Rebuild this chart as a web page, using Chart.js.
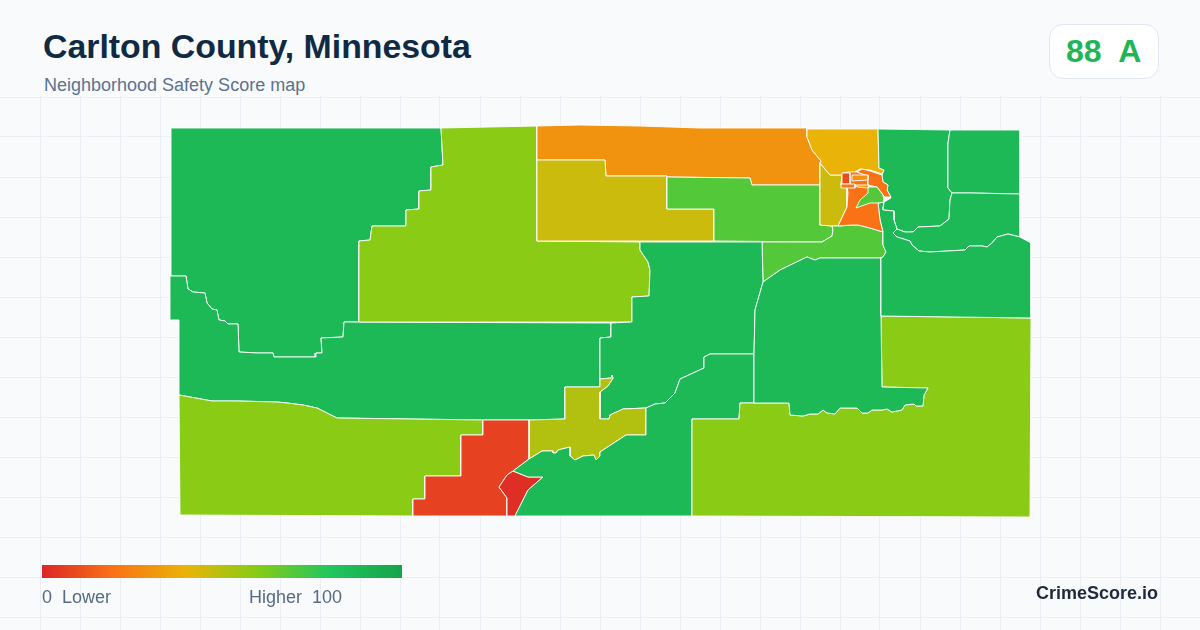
<!DOCTYPE html>
<html><head><meta charset="utf-8">
<style>
html,body{margin:0;padding:0;background:#f8fafc;width:1200px;height:630px;overflow:hidden;font-family:"Liberation Sans",Arial,sans-serif}
#wrap{position:absolute;left:0;top:0;width:1200px;height:630px}
canvas{position:absolute;left:0;top:96px}
.t{position:absolute;white-space:pre;line-height:1}
#title{left:43px;top:30px;font-size:33.85px;font-weight:700;color:#102a43}
#sub{left:44px;top:76px;font-size:18px;color:#5b7390}
#badge{position:absolute;left:1049px;top:24px;width:108px;height:53px;background:#fff;border:1px solid #e2e8f0;border-radius:14px}
#score{left:1066px;top:35px;font-size:32px;font-weight:700;color:#1fb558}
#bar{position:absolute;left:42px;top:565px;width:360px;height:13px;background:linear-gradient(90deg,#dc2626 0%,#f97316 20%,#eab308 40%,#84cc16 60%,#22c55e 80%,#16a34a 100%)}
#lo{left:42px;top:588px;font-size:18px;color:#566b85}
#hi{left:249px;top:588px;font-size:18px;color:#566b85}
#brand{left:1036px;top:584px;font-size:18px;font-weight:700;color:#1e293b}
</style></head><body>
<div id="wrap">
<canvas id="c" width="1200" height="534"></canvas>
<div class="t" id="title">Carlton County, Minnesota</div>
<div class="t" id="sub">Neighborhood Safety Score map</div>
<div id="badge"></div><div class="t" id="score">88  A</div>
<div id="bar"></div>
<div class="t" id="lo">0  Lower</div><div class="t" id="hi">Higher  100</div>
<div class="t" id="brand">CrimeScore.io</div>
</div>
<script src="https://cdn.jsdelivr.net/npm/chart.js@4"></script>
<script>
// Map tract outlines, in map units, with their safety scores
const northwest=[[171,128],[441,128],[443,165],[431,167],[431,190],[419,191],[419,209],[406,210],[406,226],[372,226],[370,240],[359,241],[359,322],[344,322],[343,337],[321,338],[322,353],[316,353],[315,357],[274,357],[273,353],[257,353],[239,352],[238,324],[228,324],[225,321],[219,320],[217,310],[212,309],[207,303],[205,293],[193,292],[188,289],[186,276],[170,276]];
const westBand=[[170,276],[186,276],[188,289],[193,292],[205,293],[207,303],[212,309],[217,310],[219,320],[225,321],[228,324],[238,324],[239,352],[257,353],[273,353],[274,357],[315,357],[316,353],[322,353],[321,338],[343,337],[344,322],[611,323],[611,337],[600,338],[600,387],[565,387],[565,419],[529,420],[483,420],[337,418],[317,408],[303,405],[287,403],[277,402],[238,401],[212,401],[179,395],[179,320],[171,320]];
const southwest=[[179,395],[212,401],[238,401],[277,402],[287,403],[303,405],[317,408],[337,418],[483,420],[483,435],[461,435],[461,476],[425,476],[425,499],[413,499],[413,516],[180,515]];
const northLime=[[441,128],[537,126],[537,241],[640,242],[640,250],[648,262],[650,270],[649,296],[632,297],[632,322],[359,322],[359,241],[370,240],[372,226],[406,226],[406,210],[419,209],[419,191],[431,190],[431,167],[443,165]];
const topOrange=[[537,126],[580,125],[640,126],[700,128],[807,128],[807,137],[812,150],[821,161],[820,163],[820,185],[752,185],[750,178],[667,177],[667,176],[606,176],[605,160],[537,160]];
const topYellow=[[537,160],[605,160],[606,176],[667,176],[667,209],[714,209],[714,241],[537,241]];
const midGreen=[[667,177],[750,178],[752,185],[820,185],[820,225],[832,226],[833,230],[832,236],[822,242],[714,241],[714,209],[667,209]];
const cloquetWest=[[820,163],[830,175],[842,175],[841,185],[847,188],[847,207],[838,226],[832,226],[820,225]];
const amberNorth=[[807,129],[878,129],[879,168],[884,170],[882,174],[870,170],[860,169],[855,172],[843,173],[842,175],[830,175],[820,163],[821,161],[812,150],[807,137]];
const southGreenStrip=[[762,242],[822,242],[832,236],[833,230],[832,226],[838,226],[852,225],[858,225],[870,228],[883,232],[883,245],[886,252],[883,257],[880,258],[820,258],[815,260],[807,257],[780,270],[763,282]];
const centerGreen=[[640,242],[762,242],[763,282],[755,310],[754,354],[710,354],[704,357],[704,368],[680,379],[675,393],[665,403],[655,404],[646,408],[623,409],[610,415],[609,419],[600,419],[600,392],[608,386],[613,378],[612,375],[611,378],[600,379],[600,338],[611,337],[611,323],[632,322],[632,297],[649,296],[650,270],[648,262],[640,250]];
const olive=[[529,420],[565,419],[565,387],[600,387],[600,379],[611,378],[612,375],[613,378],[608,386],[600,392],[600,419],[609,419],[610,415],[623,409],[646,408],[646,435],[626,435],[600,452],[600,456],[596,460],[594,455],[583,456],[575,460],[570,456],[570,447],[558,450],[556,453],[553,453],[553,451],[542,451],[529,459]];
const redOrange=[[483,420],[529,420],[529,459],[513,471],[507,475],[499,487],[507,498],[507,516],[413,516],[413,499],[425,499],[425,476],[461,476],[461,435],[483,435]];
const red=[[513,471],[528,477],[543,477],[528,490],[515,516],[507,516],[507,498],[499,487],[507,475]];
const southCenter=[[529,459],[542,451],[553,451],[553,453],[556,453],[558,450],[570,447],[570,456],[575,460],[583,456],[594,455],[596,460],[600,456],[600,452],[626,435],[646,435],[646,408],[655,404],[665,403],[675,393],[680,379],[704,368],[704,357],[710,354],[754,354],[754,403],[740,403],[739,419],[692,419],[692,516],[515,516],[528,490],[543,477],[528,477],[513,471]];
const southeast=[[692,419],[739,419],[740,403],[789,403],[790,415],[803,416],[810,414],[818,414],[823,410],[827,413],[835,414],[840,408],[857,408],[862,413],[868,413],[872,410],[882,410],[887,409],[892,412],[902,410],[905,405],[914,404],[916,406],[923,406],[924,395],[928,388],[882,387],[881,316],[1031,318],[1030,517],[692,516]];
const eastCenter=[[763,282],[780,270],[807,257],[815,260],[820,258],[881,258],[881,316],[882,387],[928,388],[924,395],[923,406],[916,406],[914,404],[905,405],[902,410],[892,412],[887,409],[882,410],[872,410],[868,413],[862,413],[857,408],[840,408],[835,414],[827,413],[823,410],[818,414],[810,414],[803,416],[790,415],[789,403],[754,403],[754,354],[755,310]];
const northeastA=[[878,129],[950,130],[948,143],[948,188],[952,193],[950,200],[949,219],[940,226],[918,227],[913,232],[905,232],[897,229],[894,220],[894,211],[883,210],[883,207],[884,202],[891,198],[887,190],[888,185],[883,182],[882,175],[884,170],[879,168]];
const northeastB=[[950,130],[1020,130],[1020,194],[972,193],[952,193],[948,188],[948,143]];
const eastRiver=[[952,193],[972,193],[1020,194],[1020,237],[1008,234],[997,237],[992,243],[987,247],[982,246],[969,246],[965,250],[930,252],[919,251],[912,245],[910,241],[897,237],[893,233],[897,229],[905,232],[913,232],[918,227],[940,226],[949,219],[950,200]];
const eastBig=[[884,202],[883,207],[883,210],[894,211],[894,220],[897,229],[893,233],[897,237],[910,241],[912,245],[919,251],[930,252],[965,250],[969,246],[982,246],[987,247],[992,243],[997,237],[1008,234],[1020,237],[1031,243],[1031,318],[881,316],[881,258],[883,257],[886,252],[883,245],[883,232],[880,220],[878,203]];
const cityCore=[[848,172],[857,172],[868,176],[868,187],[877,187],[883,195],[884,202],[878,203],[880,220],[883,232],[870,228],[858,225],[852,225],[838,226],[847,207],[848,192],[847,188],[841,185],[842,175]];
const cityNorthBand=[[857,172],[862,169],[870,171],[882,175],[883,182],[888,185],[887,190],[891,197],[885,197],[883,195],[877,187],[868,185],[868,176]];
const cityInset=[[856,208],[860,200],[868,193],[868,187],[877,187],[883,195],[884,202],[878,203],[870,203]];
const cityBlockRed=[[842,173],[850,173],[850,184],[842,184]];
const cityBlockOrange=[[841,184],[855,184],[855,188],[841,188]];
const cityBlockAmberA=[[852,175],[868,175],[868,180],[852,181]];
const cityBlockAmberB=[[855,185],[869,185],[868,188],[857,187]];

const tracts=[northwest,westBand,southwest,northLime,topOrange,topYellow,midGreen,cloquetWest,amberNorth,southGreenStrip,centerGreen,olive,redOrange,red,southCenter,southeast,eastCenter,northeastA,northeastB,eastRiver,eastBig,cityCore,cityNorthBand,cityInset,cityBlockRed,cityBlockOrange,cityBlockAmberA,cityBlockAmberB];
const tractScores=[87,87,59,59,30,46,70,46,40,70,87,51,7,2,87,59,87,87,87,87,87,20,20,70,10,22,30,34];

const rampStops=[0,20,40,60,80,100];
const rampColors=[[220,38,38],[249,115,22],[234,179,8],[132,204,22],[34,197,94],[22,163,74]];
const gridX=[40,80,120,160,200,240,280,320,360,400,440,480,520,560,600,640,680,720,760,800,840,880,920,960,1000,1040,1080,1120,1160];
const gridY=[97,137,177,217,257,297,337,377,417,457,497,537,577,617];

function colorFor(s){
  let i=0; while(i<rampStops.length-2&&s>rampStops[i+1])i++;
  const f=(s-rampStops[i])/(rampStops[i+1]-rampStops[i]);
  const c=rampColors[i].map((v,k)=>Math.round(v+(rampColors[i+1][k]-v)*f));
  return `rgb(${c[0]},${c[1]},${c[2]})`;
}
const datasets=tracts.map((poly,i)=>({
  data:[...poly,poly[0]].map(p=>({x:p[0],y:p[1]})),
  order:tracts.length-i,
  showLine:true,fill:'shape',tension:0,pointRadius:0,pointHoverRadius:0,
  backgroundColor:colorFor(tractScores[i]),borderColor:'#ffffff',borderWidth:0.9
}));
new Chart(document.getElementById('c'),{
  type:'scatter',
  data:{datasets},
  options:{
    responsive:false,animation:false,devicePixelRatio:1,
    layout:{padding:0},
    plugins:{legend:{display:false},tooltip:{enabled:false}},
    events:[],
    scales:{
      x:{type:'linear',min:0,max:1200,border:{display:false},
        afterBuildTicks:a=>{a.ticks=gridX.map(v=>({value:v}));},
        ticks:{display:false},grid:{color:'#e9eff4',lineWidth:1,drawTicks:false}},
      y:{type:'linear',reverse:true,min:96,max:630,border:{display:false},position:'left',
        afterBuildTicks:a=>{a.ticks=gridY.map(v=>({value:v}));},
        ticks:{display:false},grid:{color:'#e9eff4',lineWidth:1,drawTicks:false}}
    }
  }
});
</script>
</body></html>
